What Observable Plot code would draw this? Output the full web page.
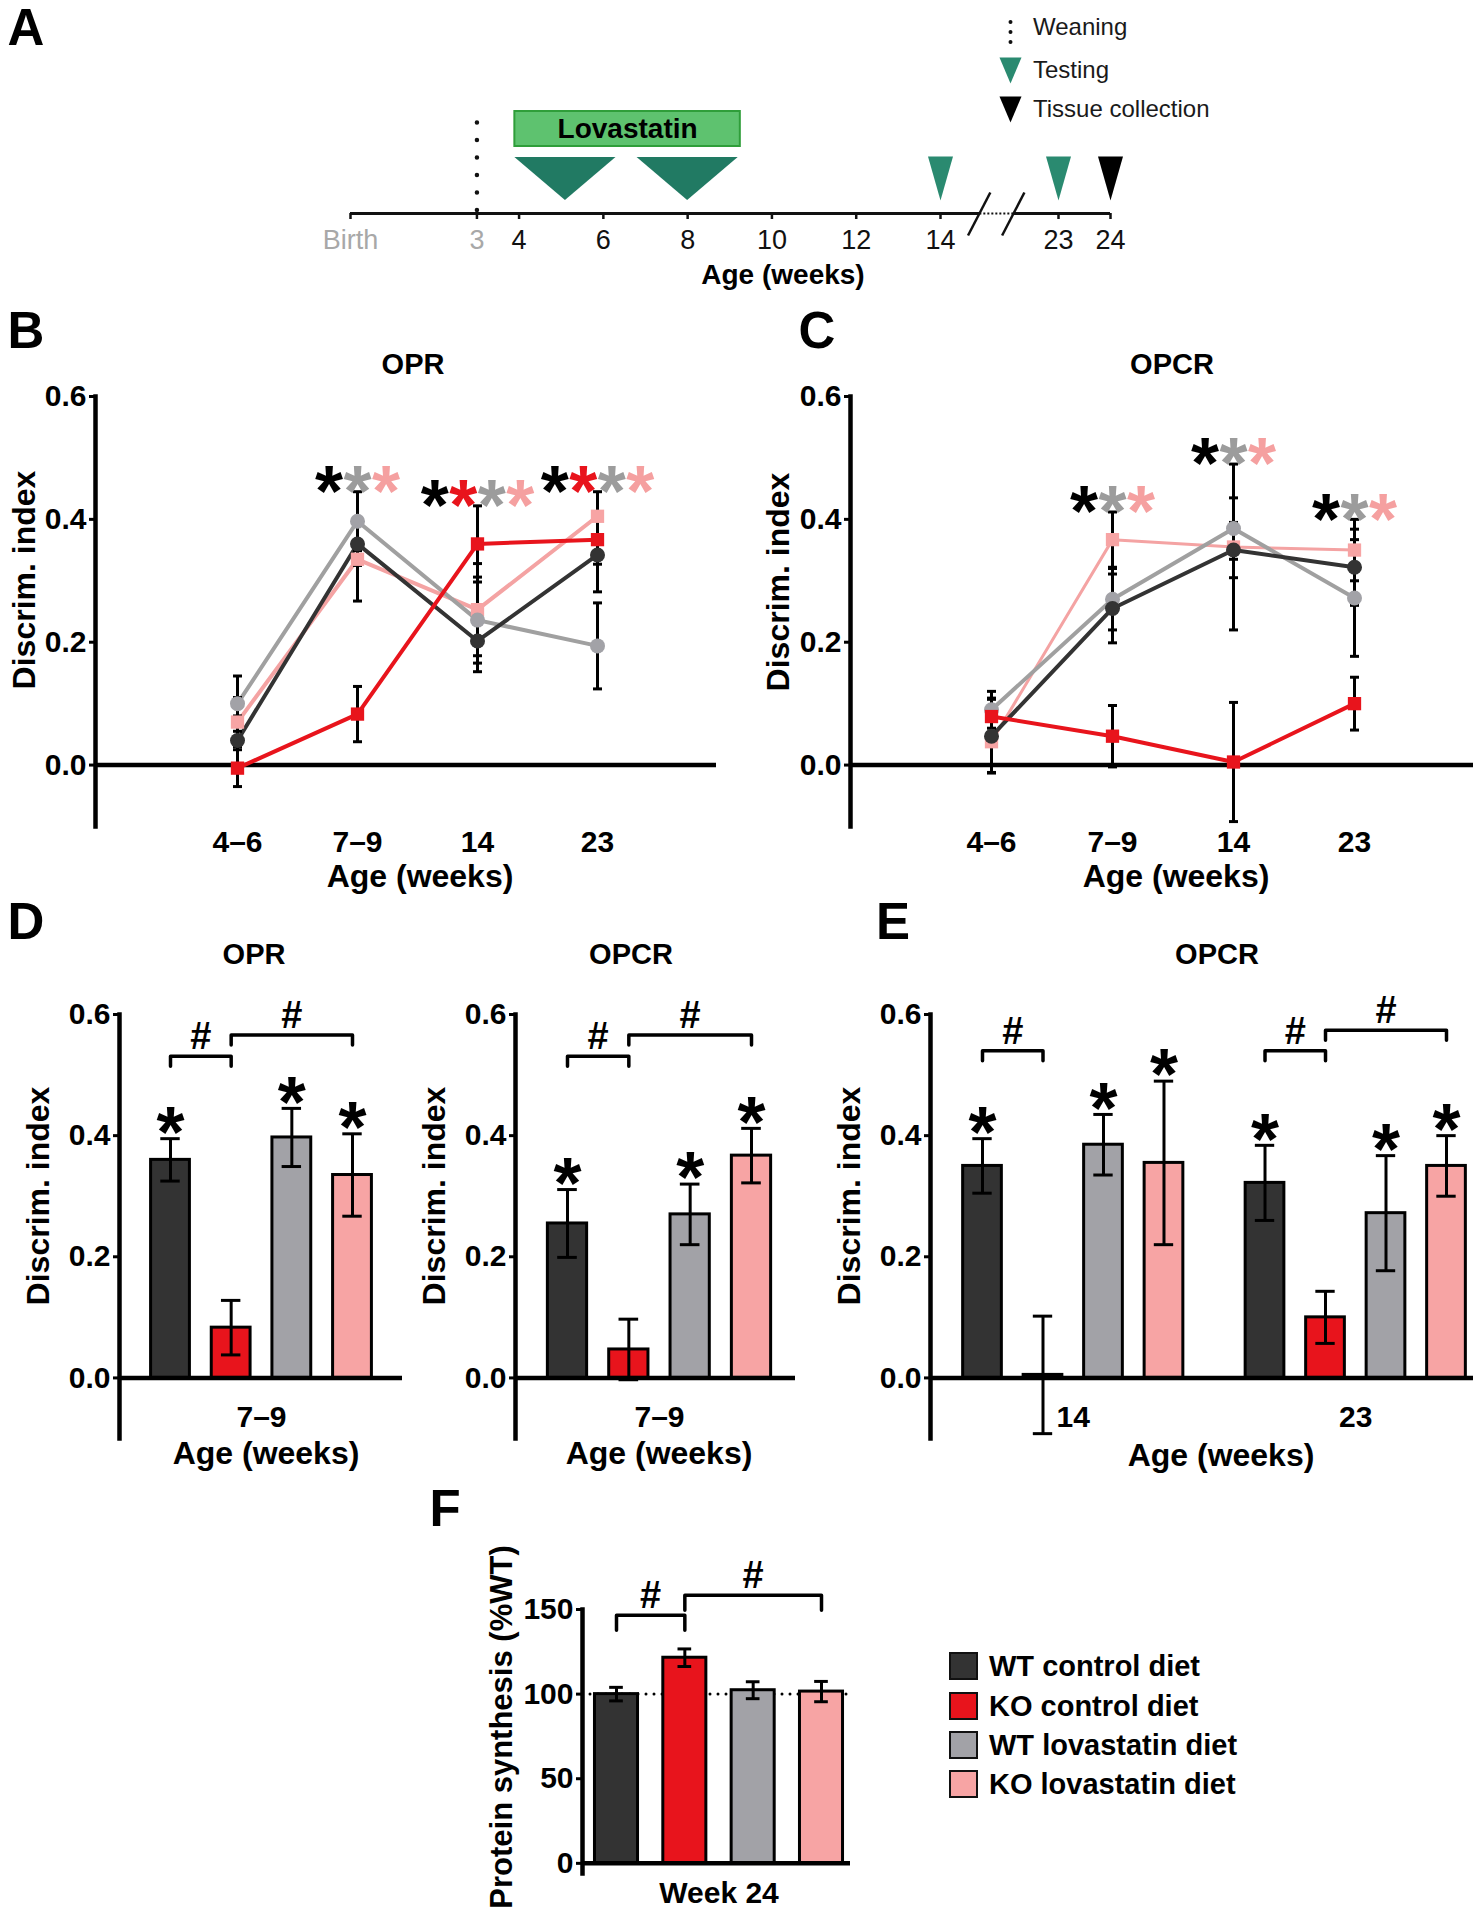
<!DOCTYPE html>
<html>
<head>
<meta charset="utf-8">
<script src="https://cdn.jsdelivr.net/npm/d3@7"></script>
<script src="https://cdn.jsdelivr.net/npm/@observablehq/plot@0.6"></script>
<style>
html, body { margin: 0; padding: 0; background: #fff; }
#page { position: relative; width: 1480px; height: 1920px; overflow: hidden; font-family: "Liberation Sans", Arial, Helvetica, sans-serif; }
#page svg { position: absolute; left: 0; top: 0; }
.lbl { position: absolute; transform: translate(-50%, -50%); white-space: nowrap; line-height: 1; font-weight: bold; color: #000; }
.sw { position: absolute; width: 29px; height: 28px; box-sizing: border-box; border: 2.5px solid #111; transform: translateY(-50%); }
</style>
</head>
<body>
<div id="page"></div>
<script>
// ---------------- DATA ----------------
const series = ["WT control diet", "KO control diet", "WT lovastatin diet", "KO lovastatin diet"];
const seriesFill = ["#333333", "#e8141c", "#a2a2a7", "#f7a4a4"];
const seriesLine = ["#333333", "#e8141c", "#a0a0a0", "#f4a3a3"];
const starColor = ["#000000", "#e8141c", "#9c9c9c", "#f5a0a0"];
const ages = ["4–6", "7–9", "14", "23"];

// OPR discrimination index (mean, SEM) per series (rows) x age (cols)
const oprMean = [
  [0.040, 0.360, 0.202, 0.342],
  [-0.005, 0.083, 0.360, 0.367],
  [0.100, 0.397, 0.236, 0.194],
  [0.070, 0.335, 0.253, 0.405]
];
const oprErr = [
  [0.040, 0.035, 0.050, 0.060],
  [0.030, 0.045, 0.062, 0.040],
  [0.045, 0.048, 0.070, 0.070],
  [0.040, 0.068, 0.075, 0.040]
];
// OPCR discrimination index
const opcrMean = [
  [0.047, 0.255, 0.350, 0.322],
  [0.079, 0.047, 0.005, 0.100],
  [0.090, 0.270, 0.385, 0.272],
  [0.038, 0.367, 0.355, 0.350]
];
const opcrErr = [
  [0.060, 0.056, 0.045, 0.062],
  [0.030, 0.050, 0.097, 0.043],
  [0.030, 0.050, 0.050, 0.095],
  [0.050, 0.045, 0.135, 0.050]
];
// significance vs chance: rows = ages, cols = series
const oprStars = [[0, 0, 0, 0], [1, 0, 1, 1], [1, 1, 1, 1], [1, 1, 1, 1]];
const opcrStars = [[0, 0, 0, 0], [1, 0, 1, 1], [1, 0, 1, 1], [1, 0, 1, 1]];
// group comparisons (#): [series a, series b, bracket level]
const oprBrackets79 = [[0, 1, 0.531], [1, 3, 0.566]];
const opcrBrackets79 = [[0, 1, 0.531], [1, 3, 0.566]];
const opcrBrackets14 = [[0, 1, 0.540]];
const opcrBrackets23 = [[0, 1, 0.540], [1, 3, 0.574]];
// protein synthesis, week 24 (% WT)
const proteinMean = [100, 121.5, 102.3, 101.5];
const proteinErr = [4, 5.2, 5, 6];
const proteinBrackets = [[0, 1, 146.6], [1, 3, 158.4]];

// timeline (weeks)
const timelineTicks = [4, 6, 8, 10, 12, 14, 23, 24];
const timelineGreyTicks = [0, 3];
const weaningWeek = 3;
const lovastatinWeeks = [3.9, 9.25];
const testingWindows = [[3.9, 5.1, 6.3], [6.8, 8.0, 9.2]]; // start, apex, end
const testingWeeks = [14, 23];
const collectionWeeks = [24];
const breakWeeks = [17.0, 19.6];

// ---------------- HELPERS ----------------
const W = 1480, H = 1920;
const page = document.getElementById("page");
const FONT = '"Liberation Sans", Arial, Helvetica, sans-serif';
const STYLE = `background: transparent; font-family: ${FONT}; overflow: visible;`;

function add(svg) { page.appendChild(svg); }
function label(text, x, y, size, o = {}) {
  const d = document.createElement("div");
  d.className = "lbl";
  d.textContent = text;
  d.style.left = x + "px";
  d.style.top = y + "px";
  d.style.fontSize = size + "px";
  if (o.rotate) d.style.transform = "translate(-50%, -50%) rotate(-90deg)";
  if (o.start) d.style.transform = "translate(0, -50%)";
  if (o.weight) d.style.fontWeight = o.weight;
  if (o.color) d.style.color = o.color;
  page.appendChild(d);
}
const cap = (w) => ({ draw(ctx) { ctx.moveTo(-w, 0); ctx.lineTo(w, 0); } });
const downTri = (w, h) => ({ draw(ctx) { ctx.moveTo(-w, -h / 2); ctx.lineTo(w, -h / 2); ctx.lineTo(0, h / 2); ctx.closePath(); } });

// ---------------- PANEL A ----------------
(function () {
  const dom = [0, 14, 23, 24], rng = [350, 940, 1058, 1110];
  const aX = d3.scaleLinear().domain(dom).range(rng);
  const legendWeek = aX.invert(1010);
  const teal = "#217a63", tealLight = "#2a8a70";
  const triPts = testingWindows.flatMap((t, k) => [
    {id: k, w: t[0], lo: 56, hi: 56}, {id: k, w: t[1], lo: 13, hi: 56}, {id: k, w: t[2], lo: 56, hi: 56}
  ]);
  const slashes = [[16.1, 17.8], [18.7, 20.4]];
  add(Plot.plot({
    width: W, height: 300,
    marginLeft: 350, marginRight: W - 1110, marginTop: 0, marginBottom: 300 - 213,
    style: STYLE,
    x: {type: "linear", domain: dom, range: rng},
    y: {type: "linear", domain: [0, 213], range: [213, 0], axis: null},
    marks: [
      Plot.ruleY([[0, breakWeeks[0]], [breakWeeks[1], 24]], {y: () => 0, x1: d => d[0], x2: d => d[1], strokeWidth: 3, stroke: "#111"}),
      Plot.ruleY([breakWeeks], {y: () => 0, x1: d => d[0], x2: d => d[1], strokeWidth: 2, strokeDasharray: "2 2", stroke: "#111"}),
      Plot.link(slashes, {x1: d => d[0], x2: d => d[1], y1: () => -22, y2: () => 21, strokeWidth: 2.5, stroke: "#111"}),
      Plot.axisX({ticks: timelineTicks, tickSize: 6, tickPadding: 10, fontSize: 27, fill: "#111", stroke: "#111", strokeWidth: 2.5, label: null, tickFormat: d => String(d)}),
      Plot.axisX({ticks: timelineGreyTicks, tickSize: 6, tickPadding: 10, fontSize: 27, fill: "#a8a8a8", stroke: "#111", strokeWidth: 2.5, label: null, tickFormat: d => d === 0 ? "Birth" : String(d)}),
      Plot.ruleX([weaningWeek], {y1: () => 3, y2: () => 92, stroke: "#111", strokeWidth: 4.5, strokeDasharray: "0 17.5", strokeLinecap: "round"}),
      Plot.rect([lovastatinWeeks], {x1: d => d[0], x2: d => d[1], y1: () => 67, y2: () => 102, fill: "#5ec26f", stroke: "#2f9e3a", strokeWidth: 2}),
      Plot.text([lovastatinWeeks], {x: d => (aX.invert((aX(d[0]) + aX(d[1])) / 2)), y: () => 84.5, text: () => "Lovastatin", fontSize: 28, fontWeight: "bold", fill: "#000"}),
      Plot.areaY(triPts, {x: "w", y1: "lo", y2: "hi", z: "id", fill: teal}),
      Plot.dot(testingWeeks, {x: d => d, y: () => 35, symbol: downTri(12.5, 44), fill: tealLight, stroke: "none"}),
      Plot.dot(collectionWeeks, {x: d => d, y: () => 35, symbol: downTri(12.5, 44), fill: "#000", stroke: "none"}),
      // legend glyphs
      Plot.ruleX([legendWeek], {y1: () => 171, y2: () => 201, stroke: "#111", strokeWidth: 4, strokeDasharray: "0 10", strokeLinecap: "round"}),
      Plot.dot([legendWeek], {x: d => d, y: () => 143, symbol: downTri(11, 26), fill: tealLight, stroke: "none"}),
      Plot.dot([legendWeek], {x: d => d, y: () => 104, symbol: downTri(11, 26), fill: "#000", stroke: "none"})
    ]
  }));
  label("Age (weeks)", 783, 275, 28);
  label("Weaning", 1033, 27, 24, {start: true, weight: "normal", color: "#1a1a1a"});
  label("Testing", 1033, 70, 24, {start: true, weight: "normal", color: "#1a1a1a"});
  label("Tissue collection", 1033, 109, 24, {start: true, weight: "normal", color: "#1a1a1a"});
  label("A", 26, 27, 51);
})();

// ---------------- LINE PANELS (B, C) ----------------
const STAR_FS = 72;
function linePanel(P) {
  const rows = [];
  series.forEach((s, i) => ages.forEach((a, j) => rows.push({s, i, a, v: P.mean[i][j], e: P.err[i][j]})));
  const order = [3, 2, 0, 1];
  const starRows = [];
  ages.forEach((a, j) => {
    const idx = series.map((_, i) => i).filter(i => P.stars[j][i]);
    const top = d3.max(rows.filter(r => r.a === a), r => r.v + r.e);
    idx.forEach((i, k) => starRows.push({a, i, top, off: Math.round((k - (idx.length - 1) / 2) * 2)}));
  });
  const STEP = 28.5, FS = STAR_FS;
  const starMarks = d3.groups(starRows, d => d.off).map(([off, rs]) =>
    Plot.text(rs, {x: "a", y: "top", text: () => "*", fill: d => starColor[d.i], fontSize: FS, fontWeight: "bold", dx: off * STEP / 2, dy: -16 + 0.24 * FS}));
  return Plot.plot({
    width: W, height: H,
    marginLeft: P.left, marginRight: W - P.right, marginTop: 396, marginBottom: H - 826,
    style: STYLE,
    x: {type: "point", domain: ages, range: P.xRange},
    y: {domain: [-0.1, 0.6]},
    color: {type: "identity"},
    marks: [
      Plot.ruleY([0], {strokeWidth: 4.5, stroke: "#000"}),
      Plot.frame({anchor: "left", strokeWidth: 4.5, stroke: "#000"}),
      Plot.axisY({ticks: [0, 0.2, 0.4, 0.6], tickFormat: d => d.toFixed(1), tickSize: 6, tickPadding: 3, strokeWidth: 3, fontSize: 30, fontWeight: "bold", fill: "#000", label: null}),
      Plot.axisX({tickSize: 0, tickPadding: 4, fontSize: 30, fontWeight: "bold", fill: "#000", label: null}),
      ...order.map(i => Plot.line(rows.filter(r => r.i === i), {x: "a", y: "v", stroke: seriesLine[i], strokeWidth: P.lineWidth[i]})),
      Plot.ruleX(rows, {x: "a", y1: d => d.v - d.e, y2: d => d.v + d.e, stroke: "#000", strokeWidth: 3}),
      Plot.dot(rows, {x: "a", y: d => d.v - d.e, symbol: cap(4.5), stroke: "#000", strokeWidth: 3, fill: "none"}),
      Plot.dot(rows, {x: "a", y: d => d.v + d.e, symbol: cap(4.5), stroke: "#000", strokeWidth: 3, fill: "none"}),
      ...order.map(i => Plot.dot(rows.filter(r => r.i === i), {x: "a", y: "v", symbol: i % 2 ? "square" : "circle", r: i % 2 ? 7.5 : 7.5, fill: seriesFill[i], stroke: "none"})),
      ...starMarks
    ]
  });
}

add(linePanel({mean: oprMean, err: oprErr, stars: oprStars, left: 95, right: 716, xRange: [176, 657], lineWidth: [4, 4, 4, 4]}));
label("B", 26, 330, 51);
label("OPR", 413, 364, 29);
label("Discrim. index", 24, 580, 32, {rotate: true});
label("Age (weeks)", 420, 876, 32);

add(linePanel({mean: opcrMean, err: opcrErr, stars: opcrStars, left: 850, right: 1473, xRange: [930, 1414], lineWidth: [4, 4, 4, 3]}));
label("C", 817, 330, 51);
label("OPCR", 1172, 364, 29);
label("Discrim. index", 778, 582, 32, {rotate: true});
label("Age (weeks)", 1176, 876, 32);

// ---------------- BAR PANELS (D, E, F) ----------------
function barPanel(P) {
  const rows = P.groups.flatMap((g, gi) => g.mean.map((v, i) => ({g: gi, i, x: gi * P.groupStep + i, v, e: g.err[i], star: g.stars[i]})));
  const pxPerUnit = (P.bottom - P.top) / (P.yDomain[1] - P.yDomain[0]);
  const leg = P.legPx / pxPerUnit;
  const brs = P.groups.flatMap((g, gi) => g.brackets.map(([a, b, lvl], k) => ({id: gi + "-" + k, xa: gi * P.groupStep + a, xb: gi * P.groupStep + b, lvl})));
  const brPts = brs.flatMap(b => [
    {id: b.id, x: b.xa, y: b.lvl - leg}, {id: b.id, x: b.xa, y: b.lvl},
    {id: b.id, x: b.xb, y: b.lvl}, {id: b.id, x: b.xb, y: b.lvl - leg}
  ]);
  const hw = P.hw, cw = P.capHalf;
  const groupTicks = P.groups.map((g, gi) => gi * P.groupStep + 1.5);
  const FS = STAR_FS;
  return Plot.plot({
    width: W, height: H,
    marginLeft: P.left, marginRight: W - P.right, marginTop: P.top, marginBottom: H - P.bottom,
    style: STYLE,
    x: {domain: [0, (P.groups.length - 1) * P.groupStep + 3], range: P.xRange},
    y: {domain: P.yDomain},
    color: {type: "identity"},
    marks: [
      P.refLine != null ? Plot.ruleY([P.refLine], {stroke: "#000", strokeWidth: 3, strokeDasharray: "0 8", strokeLinecap: "round"}) : null,
      Plot.rectY(rows, {x1: d => d.x - hw, x2: d => d.x + hw, y1: 0, y2: "v", fill: d => seriesFill[d.i], stroke: "#000", strokeWidth: 3}),
      Plot.ruleY([0], {strokeWidth: 4.5, stroke: "#000"}),
      Plot.frame({anchor: "left", strokeWidth: 4.5, stroke: "#000"}),
      Plot.axisY({ticks: P.ticks, tickFormat: P.tickFormat, tickSize: 6, tickPadding: 3, strokeWidth: 3, fontSize: 30, fontWeight: "bold", fill: "#000", label: null}),
      Plot.axisX({ticks: groupTicks, tickFormat: d => P.groups[Math.round((d - 1.5) / P.groupStep)].label, tickSize: 0, tickPadding: P.xPad, fontSize: 30, fontWeight: "bold", fill: "#000", label: null}),
      Plot.ruleX(rows, {x: "x", y1: d => d.v - d.e, y2: d => d.v + d.e, stroke: "#000", strokeWidth: 3}),
      Plot.ruleY(rows, {y: d => d.v - d.e, x1: d => d.x - cw, x2: d => d.x + cw, stroke: "#000", strokeWidth: 3}),
      Plot.ruleY(rows, {y: d => d.v + d.e, x1: d => d.x - cw, x2: d => d.x + cw, stroke: "#000", strokeWidth: 3}),
      Plot.text(rows.filter(d => d.star), {x: "x", y: d => d.v + d.e, text: () => "*", fontSize: FS, fontWeight: "bold", fill: "#000", dy: -22 + 0.24 * FS}),
      Plot.line(brPts, {x: "x", y: "y", z: "id", stroke: "#000", strokeWidth: 3.5}),
      Plot.text(brs, {x: d => (d.xa + d.xb) / 2, y: "lvl", text: () => "#", dy: -19, fontSize: 38, fontWeight: "bold", fill: "#000"})
    ]
  });
}
const col = (m, j) => m.map(r => r[j]);
const fmt1 = d => d.toFixed(1);

// D left: OPR 7–9
add(barPanel({
  groups: [{label: ages[1], mean: col(oprMean, 1), err: col(oprErr, 1), stars: oprStars[1], brackets: oprBrackets79}],
  groupStep: 4.67, left: 119, right: 402, top: 1014, bottom: 1438, yDomain: [-0.1, 0.6],
  ticks: [0, 0.2, 0.4, 0.6], tickFormat: fmt1, xRange: [170, 352], hw: 0.32, capHalf: 0.16, legPx: 10, xPad: -33
}));
label("D", 26, 921, 51);
label("OPR", 254, 954, 29);
label("Discrim. index", 38, 1196, 32, {rotate: true});
label("Age (weeks)", 266, 1453, 32);

// D right: OPCR 7–9
add(barPanel({
  groups: [{label: ages[1], mean: col(opcrMean, 1), err: col(opcrErr, 1), stars: opcrStars[1], brackets: opcrBrackets79}],
  groupStep: 4.67, left: 515, right: 795, top: 1014, bottom: 1438, yDomain: [-0.1, 0.6],
  ticks: [0, 0.2, 0.4, 0.6], tickFormat: fmt1, xRange: [567, 751], hw: 0.32, capHalf: 0.16, legPx: 10, xPad: -33
}));
label("OPCR", 631, 954, 29);
label("Discrim. index", 434, 1196, 32, {rotate: true});
label("Age (weeks)", 659, 1453, 32);

// E: OPCR 14 and 23
add(barPanel({
  groups: [
    {label: ages[2], mean: col(opcrMean, 2), err: col(opcrErr, 2), stars: opcrStars[2], brackets: opcrBrackets14},
    {label: ages[3], mean: col(opcrMean, 3), err: col(opcrErr, 3), stars: opcrStars[3], brackets: opcrBrackets23}
  ],
  groupStep: 4.67, left: 930, right: 1473, top: 1014, bottom: 1438, yDomain: [-0.1, 0.6],
  ticks: [0, 0.2, 0.4, 0.6], tickFormat: fmt1, xRange: [982, 1446], hw: 0.32, capHalf: 0.16, legPx: 10, xPad: -33
}));
label("E", 893, 921, 51);
label("OPCR", 1217, 954, 29);
label("Discrim. index", 849, 1196, 32, {rotate: true});
label("Age (weeks)", 1221, 1455, 32);

// F: protein synthesis
add(barPanel({
  groups: [{label: "Week 24", mean: proteinMean, err: proteinErr, stars: [0, 0, 0, 0], brackets: proteinBrackets}],
  groupStep: 4.67, left: 582, right: 850, top: 1609, bottom: 1873, yDomain: [-6, 150],
  ticks: [0, 50, 100, 150], tickFormat: d => String(d), xRange: [616, 821], hw: 0.315, capHalf: 0.1, legPx: 15, xPad: 8,
  refLine: 100
}));
label("F", 445, 1508, 51);
label("Protein synthesis (%WT)", 501, 1727, 31, {rotate: true});

// F legend
const legendY = [1666, 1706, 1745, 1784];
series.forEach((s, i) => {
  const sw = document.createElement("div");
  sw.className = "sw";
  sw.style.left = "949px";
  sw.style.top = legendY[i] + "px";
  sw.style.background = seriesFill[i];
  page.appendChild(sw);
  label(s, 989, legendY[i], 29, {start: true});
});
</script>
</body>
</html>
